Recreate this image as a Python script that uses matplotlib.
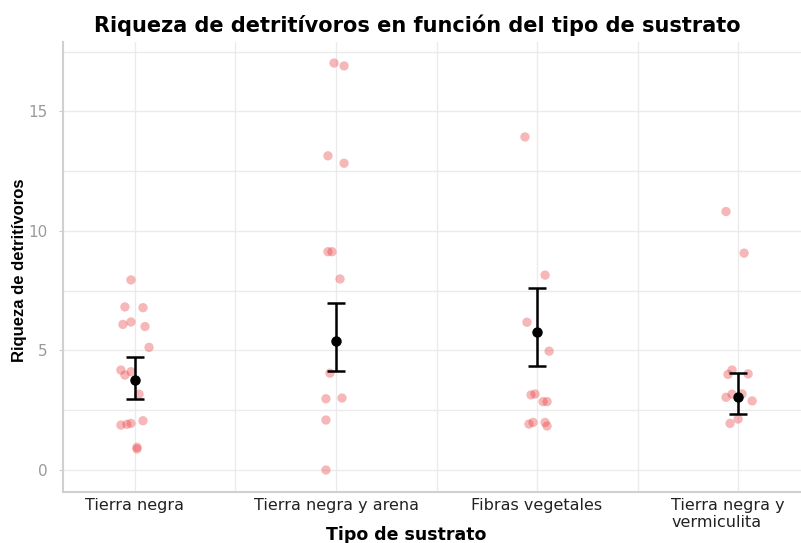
import numpy as np
import matplotlib.pyplot as plt
import matplotlib.transforms as mtransforms
from matplotlib.ticker import MultipleLocator

# Categories
sustratos = ["Tierra negra", "Tierra negra y arena", "Fibras vegetales", "Tierra negra y\nvermiculita"]

# Raw values and their horizontal jitter offsets
tn_vals = [7.95, 6.82, 6.79, 6.09, 6.19, 6.0, 5.13, 4.18, 3.97, 4.11, 3.17, 1.88, 1.91, 1.95, 2.06, 0.95, 0.88]
tn_jit = [-0.02, -0.05, 0.04, -0.06, -0.02, 0.05, 0.07, -0.07, -0.05, -0.02, 0.02, -0.07, -0.04, -0.02, 0.04, 0.01, 0.01]

tna_vals = [17.02, 16.9, 13.14, 12.83, 9.13, 9.13, 7.99, 4.05, 2.98, 3.01, 2.09, 0.0]
tna_jit = [-0.01, 0.04, -0.04, 0.04, -0.04, -0.02, 0.02, -0.03, -0.05, 0.03, -0.05, -0.05]

fv_vals = [13.93, 8.15, 6.18, 4.97, 3.14, 3.18, 2.86, 2.86, 1.92, 1.99, 1.99, 1.84]
fv_jit = [-0.06, 0.04, -0.05, 0.06, -0.03, -0.01, 0.03, 0.05, -0.04, -0.02, 0.04, 0.05]

tnv_vals = [10.81, 9.07, 4.18, 4.0, 4.02, 3.04, 3.17, 3.18, 2.89, 2.13, 1.95]
tnv_jit = [-0.06, 0.03, -0.03, -0.05, 0.05, -0.06, -0.03, 0.02, 0.07, 0.0, -0.04]

valores = [tn_vals, tna_vals, fv_vals, tnv_vals]
jitters = [tn_jit, tna_jit, fv_jit, tnv_jit]

# Mean and error bar limits
medias = [3.77, 5.40, 5.76, 3.07]
lim_inf = [2.96, 4.15, 4.35, 2.33]
lim_sup = [4.74, 6.97, 7.63, 4.07]

fig = plt.figure(figsize=(8.01, 5.43), dpi=100)
ax = fig.add_axes([63 / 801, 1 - 492 / 543, 738 / 801, 450 / 543])

pos = np.arange(1, len(sustratos) + 1)

for i, (vals, jit) in enumerate(zip(valores, jitters)):
    x = pos[i] + np.array(jit)
    ax.scatter(x, vals, s=45, color="#e8383d", alpha=0.36, edgecolors="none", zorder=3)

medias = np.array(medias)
err = [medias - np.array(lim_inf), np.array(lim_sup) - medias]
ax.errorbar(pos, medias, yerr=err, fmt="o", color="black", ms=6.5, elinewidth=1.8,
            capsize=6.5, capthick=1.8, zorder=4)

ax.set_xlim(0.642, 4.313)
ax.set_ylim(-0.92, 17.9)
ax.set_xticks(pos)
ax.set_xticklabels(sustratos, fontsize=11.5, color="#222222", multialignment="left")
ax.yaxis.set_major_locator(MultipleLocator(5))
ax.yaxis.set_minor_locator(MultipleLocator(2.5))
ax.set_xticks(pos[:-1] + 0.5, minor=True)
ax.tick_params(axis="y", which="major", labelsize=11, labelcolor="#9a9a9a", length=3, color="#cccccc", pad=8)
ax.tick_params(axis="x", which="major", length=0, pad=4)
ax.tick_params(which="minor", length=0)

# last label sits a bit to the left in the original
last = ax.get_xticklabels()[-1]
last.set_transform(last.get_transform() + mtransforms.ScaledTranslation(-10 / 100, 0, fig.dpi_scale_trans))

ax.grid(True, which="both", color="#ebebeb", linewidth=1.0)
ax.set_axisbelow(True)
for side in ["top", "right"]:
    ax.spines[side].set_visible(False)
ax.spines["left"].set_color("#d0d0d0")
ax.spines["bottom"].set_color("#d0d0d0")
ax.spines["left"].set_linewidth(1.5)
ax.spines["bottom"].set_linewidth(1.5)

ax.set_title("Riqueza de detritívoros en función del tipo de sustrato", fontsize=15,
             fontweight="bold", x=(417 - 63) / 738, pad=7)
ax.set_xlabel("Tipo de sustrato", fontsize=12.5, fontweight="bold")
ax.xaxis.set_label_coords((406 - 63) / 738, -0.076)
ax.set_ylabel("Riqueza de detritívoros", fontsize=12, fontweight="bold",
              family=["Liberation Sans", "DejaVu Sans"])
ax.yaxis.set_label_coords(-0.049, 0.493)

fig.savefig("out.png", dpi=100)
